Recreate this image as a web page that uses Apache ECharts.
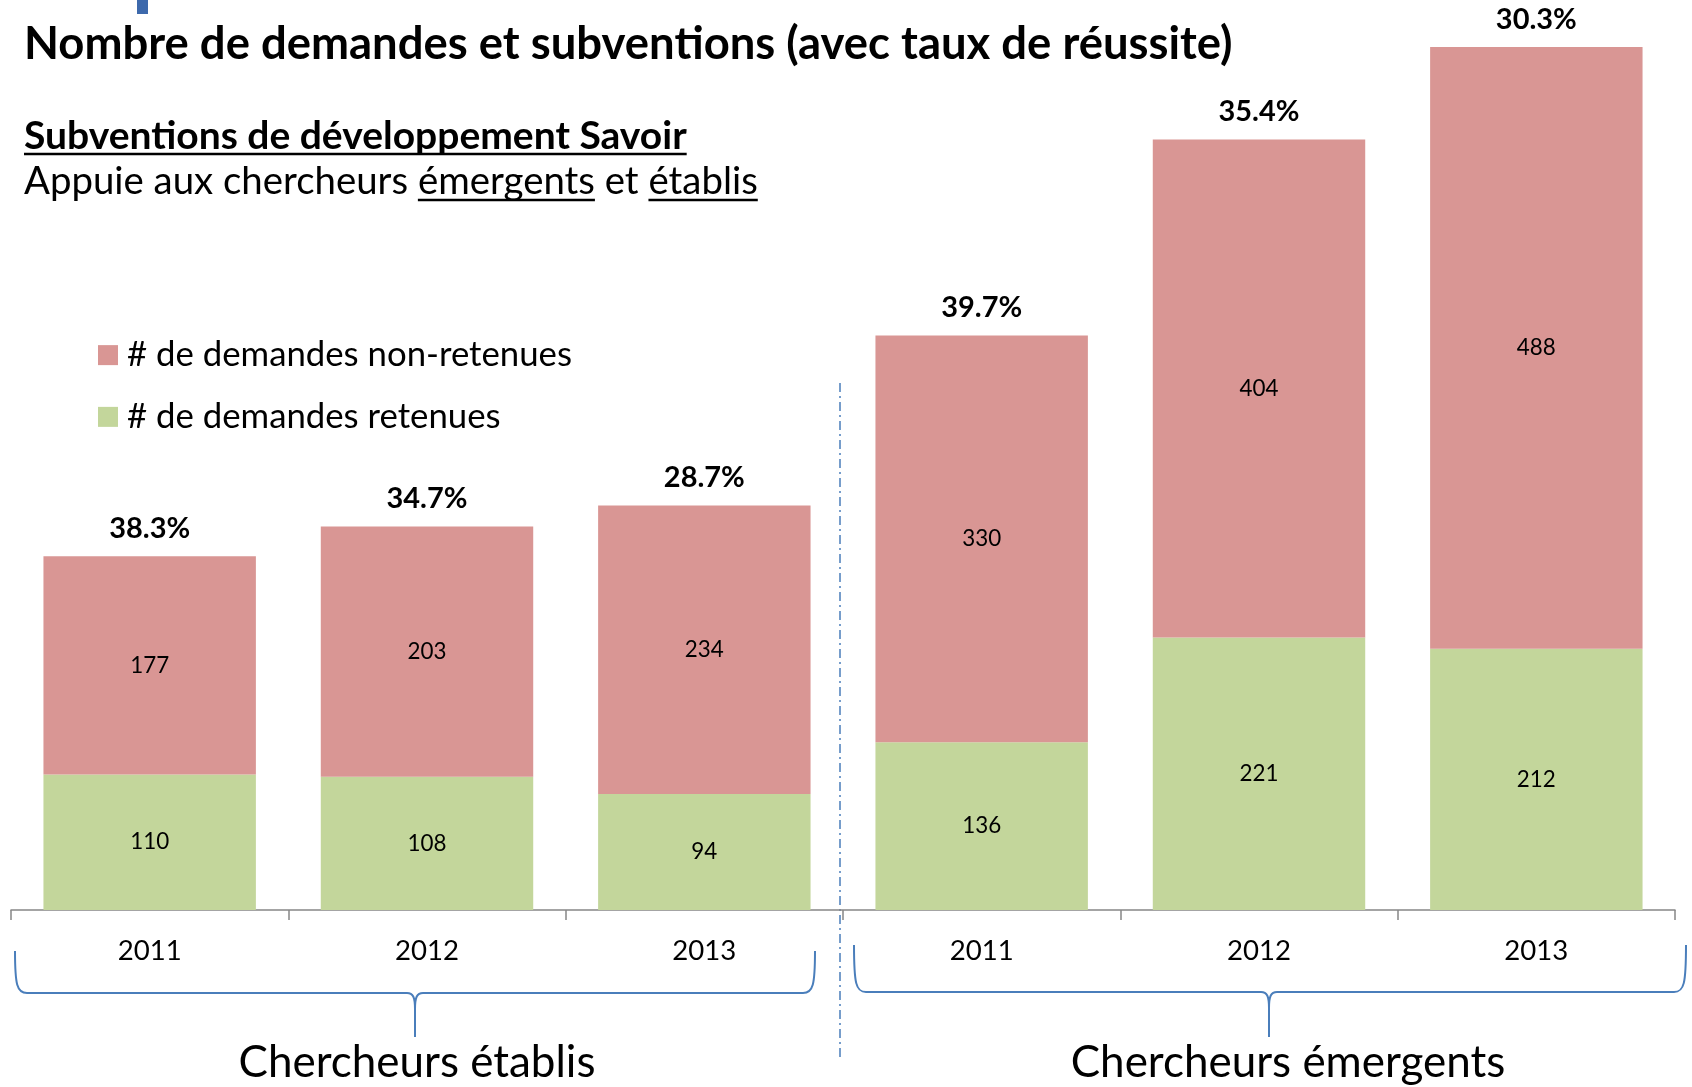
<!DOCTYPE html>
<html><head><meta charset="utf-8">
<script src="https://cdn.jsdelivr.net/npm/echarts@6/dist/echarts.min.js"></script>
<style>html,body{margin:0;padding:0;background:#fff}#c{width:1692px;height:1087px}</style>
</head><body><div id="c"></div>
<script>
// ---- data ----
const categories = ['2011', '2012', '2013', '2011', '2012', '2013'];
const groups = ['Chercheurs établis', 'Chercheurs émergents'];
const retenues = [110, 108, 94, 136, 221, 212];
const nonRetenues = [177, 203, 234, 330, 404, 488];
const tauxLabels = ['38.3%', '34.7%', '28.7%', '39.7%', '35.4%', '30.3%'];
const legendNames = ['# de demandes non-retenues', '# de demandes retenues'];
const titleText = 'Nombre de demandes et subventions (avec taux de réussite)';
const subtitle1 = 'Subventions de développement Savoir';
const sub2Parts = ['Appuie aux chercheurs ', 'émergents', ' et ', 'établis'];

// ---- style ----
const FAM = 'Lato, "Noto Sans", sans-serif';
const RED = '#D99694', GREEN = '#C3D69B', BLUE = '#4A7EBB';

const mctx = document.createElement('canvas').getContext('2d');
function tw(text, weight, size) { mctx.font = weight + ' ' + size + 'px ' + FAM; return mctx.measureText(text).width; }
function fit(text, weight, target) { return 100 * target / tw(text, weight, 100); }

const fsTitle = fit(titleText, 'bold', 1209);
const fsSub1 = fit(subtitle1, 'bold', 663);
const fsSub2 = fit(sub2Parts.join(''), 'normal', 734);
const fsLegend = fit(legendNames[0], 'normal', 445);
const fsYear = fit('2011', 'normal', 64);
const fsPct = fit('38.3%', 'bold', 81);
const fsVal = fit('177', 'normal', 39);
const fsGroup = fit(groups[0], 'normal', 357);

const totals = retenues.map((v, i) => v + nonRetenues[i]);

const chart = echarts.init(document.getElementById('c'), null, { renderer: 'canvas' });
const valLabel = { show: true, position: 'inside', color: '#000', fontSize: fsVal, fontFamily: FAM };
chart.setOption({
  animation: false,
  backgroundColor: '#fff',
  grid: { left: 11, right: 17, top: 47, bottom: 177, containLabel: false },
  legend: {
    orient: 'vertical', left: 98, top: 355 - fsLegend / 2, padding: 0, itemWidth: 20, itemHeight: 20,
    itemGap: 61.5 - fsLegend, icon: 'rect', selectedMode: false,
    data: legendNames,
    textStyle: { fontSize: fsLegend, fontFamily: FAM, color: '#000', padding: [0, 0, 0, 4] }
  },
  xAxis: {
    type: 'category', data: categories,
    axisLine: { lineStyle: { color: '#878787', width: 1.5 } },
    axisTick: { show: true, interval: 0, alignWithLabel: false, length: 10, lineStyle: { color: '#878787', width: 1.5 } },
    axisLabel: { color: '#000', fontSize: fsYear, fontFamily: FAM, margin: 41 - fsYear / 2 }
  },
  yAxis: { type: 'value', min: 0, max: 700, show: false, splitLine: { show: false } },
  series: [
    { name: legendNames[1], type: 'bar', stack: 't', data: retenues, barWidth: '76.6%',
      itemStyle: { color: GREEN }, label: valLabel },
    { name: legendNames[0], type: 'bar', stack: 't', data: nonRetenues,
      itemStyle: { color: RED }, label: valLabel },
    { type: 'scatter', data: totals, symbolSize: 0, silent: true, itemStyle: { opacity: 1 },
      label: { show: true, position: 'top', distance: 13, color: '#000', fontWeight: 'bold',
        fontSize: fsPct, fontFamily: FAM, formatter: p => tauxLabels[p.dataIndex] } }
  ]
});

// ---- decorations tied to axis pixels ----
const c0 = chart.convertToPixel({ xAxisIndex: 0 }, 0);
const band = chart.convertToPixel({ xAxisIndex: 0 }, 1) - c0;
const b = i => c0 - band / 2 + i * band;

function brace(xl, xr, xp, ytop, ymid, ybot) {
  const st = { stroke: BLUE, lineWidth: 2, fill: null };
  return [
    { type: 'bezierCurve', shape: { x1: xl, y1: ytop, x2: xl + 12, y2: ymid, cpx1: xl, cpy1: ymid - 8, cpx2: xl + 2, cpy2: ymid }, style: st },
    { type: 'line', shape: { x1: xl + 12, y1: ymid, x2: xp - 8, y2: ymid }, style: st },
    { type: 'bezierCurve', shape: { x1: xp - 8, y1: ymid, x2: xp, y2: ymid + 16, cpx1: xp - 2, cpy1: ymid, cpx2: xp, cpy2: ymid + 4 }, style: st },
    { type: 'line', shape: { x1: xp, y1: ymid + 16, x2: xp, y2: ybot }, style: st },
    { type: 'bezierCurve', shape: { x1: xp + 8, y1: ymid, x2: xp, y2: ymid + 16, cpx1: xp + 2, cpy1: ymid, cpx2: xp, cpy2: ymid + 4 }, style: st },
    { type: 'line', shape: { x1: xp + 8, y1: ymid, x2: xr - 12, y2: ymid }, style: st },
    { type: 'bezierCurve', shape: { x1: xr, y1: ytop, x2: xr - 12, y2: ymid, cpx1: xr, cpy1: ymid - 8, cpx2: xr - 2, cpy2: ymid }, style: st }
  ];
}

const sx = 24;
const w1 = tw(sub2Parts[0], 'normal', fsSub2);
const w2 = tw(sub2Parts[1], 'normal', fsSub2);
const w3 = tw(sub2Parts[2], 'normal', fsSub2);
const w4 = tw(sub2Parts[3], 'normal', fsSub2);
const wS1 = tw(subtitle1, 'bold', fsSub1);

const elements = [
  { type: 'rect', shape: { x: 137, y: 0, width: 11, height: 14 }, style: { fill: '#3D69AC' } },
  { type: 'text', style: { text: titleText, x: sx, y: 44, font: 'bold ' + fsTitle + 'px ' + FAM, fill: '#000', textVerticalAlign: 'middle' } },
  { type: 'text', style: { text: subtitle1, x: sx, y: 136, font: 'bold ' + fsSub1 + 'px ' + FAM, fill: '#000', textVerticalAlign: 'middle' } },
  { type: 'line', shape: { x1: sx, y1: 154, x2: sx + wS1, y2: 154 }, style: { stroke: '#000', lineWidth: 2.5 } },
  { type: 'text', style: { text: sub2Parts.join(''), x: sx, y: 182, font: 'normal ' + fsSub2 + 'px ' + FAM, fill: '#000', textVerticalAlign: 'middle' } },
  { type: 'line', shape: { x1: sx + w1, y1: 200, x2: sx + w1 + w2, y2: 200 }, style: { stroke: '#000', lineWidth: 2.5 } },
  { type: 'line', shape: { x1: sx + w1 + w2 + w3, y1: 200, x2: sx + w1 + w2 + w3 + w4, y2: 200 }, style: { stroke: '#000', lineWidth: 2.5 } },
  { type: 'line', shape: { x1: b(3) - 3, y1: 383, x2: b(3) - 3, y2: 1058 }, style: { stroke: BLUE, lineWidth: 1.5, lineDash: [9, 4, 2, 4] } },
  { type: 'text', style: { text: groups[0], x: (b(0) + b(3)) / 2 - 10, y: 1063, font: 'normal ' + fsGroup + 'px ' + FAM, fill: '#000', textAlign: 'center', textVerticalAlign: 'middle' } },
  { type: 'text', style: { text: groups[1], x: (b(3) + b(6)) / 2 + 29, y: 1063, font: 'normal ' + fsGroup + 'px ' + FAM, fill: '#000', textAlign: 'center', textVerticalAlign: 'middle' } }
].concat(
  brace(b(0) + 4, b(3) - 28, (b(0) + b(3)) / 2 - 12, 951, 993, 1037),
  brace(b(3) + 11, b(6) + 11, (b(3) + b(6)) / 2 + 10, 945, 992, 1037)
);
chart.setOption({ graphic: { elements: elements } });
</script>
</body></html>
